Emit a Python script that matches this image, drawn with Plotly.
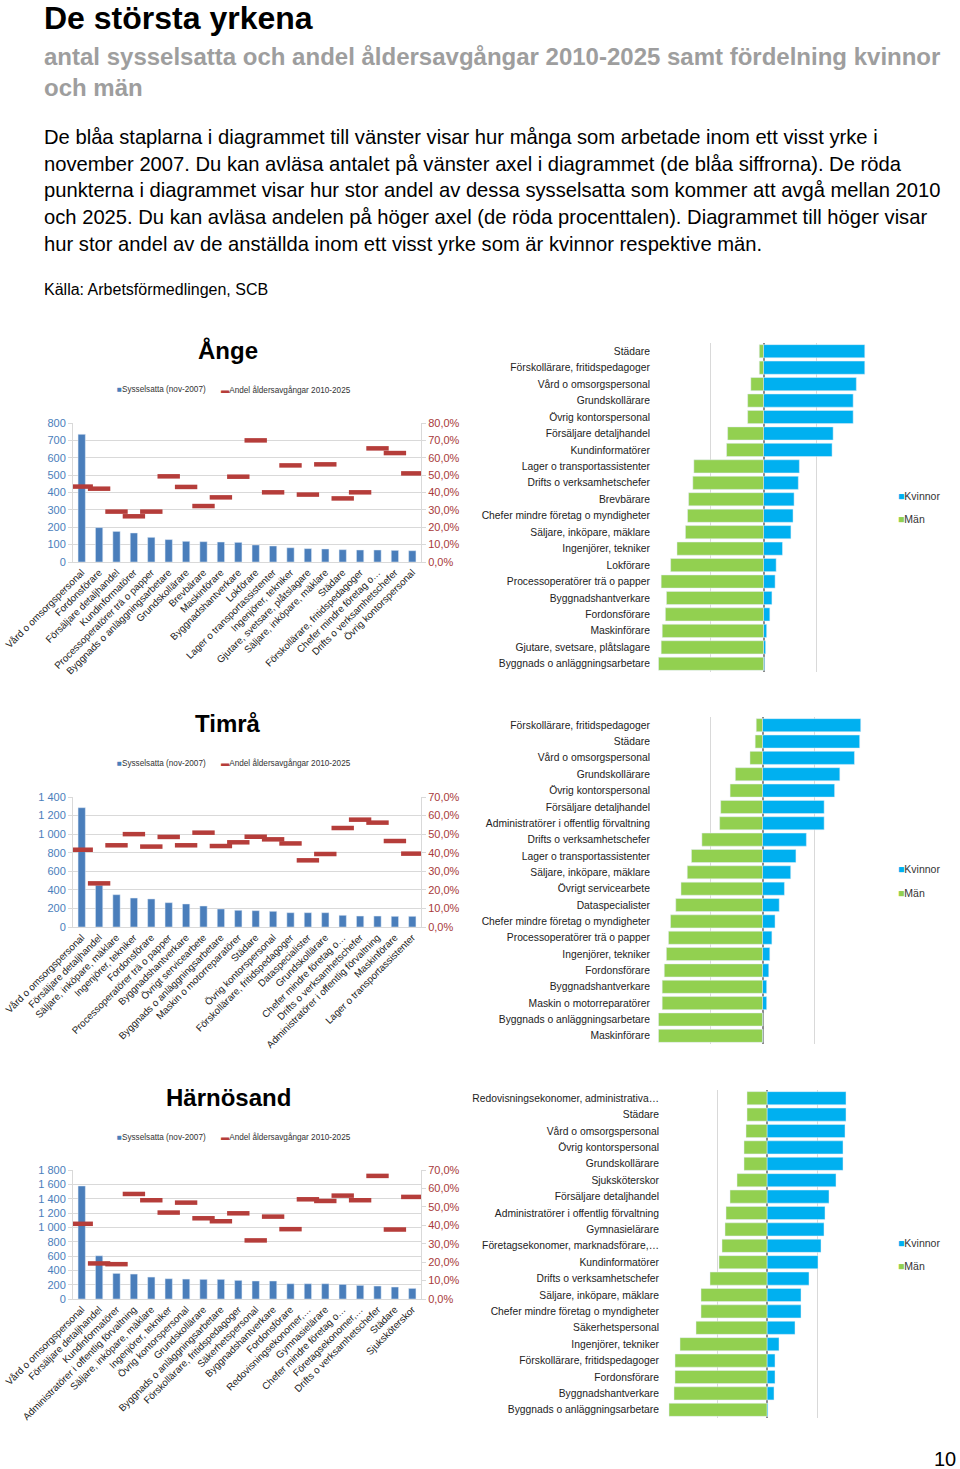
import plotly.graph_objects as go

W, H = 960, 1469
FONT = "Liberation Sans, Arial, sans-serif"

# ---------------- DATA ----------------
ange_yrken = ["Vård o omsorgspersonal", "Fordonsförare", "Försäljare detaljhandel", "Kundinformatörer",
              "Processoperatörer trä o papper", "Byggnads o anläggningsarbetare", "Grundskollärare",
              "Brevbärare", "Maskinförare", "Byggnadshantverkare", "Lokförare",
              "Lager o transportassistenter", "Ingenjörer, tekniker", "Gjutare, svetsare, plåtslagare",
              "Säljare, inköpare, mäklare", "Städare", "Förskollärare, fritidspedagoger",
              "Chefer mindre företag o…", "Drifts o verksamhetschefer", "Övrig kontorspersonal"]
ange_syss = [735, 198, 176, 167, 142, 129, 119, 117, 115, 113, 98, 92, 82, 77, 75, 71, 69, 69, 67, 65]
ange_andel = [43.4, 42.2, 29.0, 26.3, 29.0, 49.3, 43.2, 32.2, 37.2, 49.1, 70.0, 40.1, 55.6, 38.8,
              56.2, 36.6, 40.1, 65.4, 62.7, 51.0]

ange_kon_yrken = ["Städare", "Förskollärare, fritidspedagoger", "Vård o omsorgspersonal", "Grundskollärare",
                  "Övrig kontorspersonal", "Försäljare detaljhandel", "Kundinformatörer",
                  "Lager o transportassistenter", "Drifts o verksamhetschefer", "Brevbärare",
                  "Chefer mindre företag o myndigheter", "Säljare, inköpare, mäklare", "Ingenjörer, tekniker",
                  "Lokförare", "Processoperatörer trä o papper", "Byggnadshantverkare", "Fordonsförare",
                  "Maskinförare", "Gjutare, svetsare, plåtslagare", "Byggnads o anläggningsarbetare"]
ange_kvinnor = [96, 96, 88, 85, 85, 66, 65, 34, 33, 29, 28, 26, 18, 12, 11, 8, 6, 3, 2, 1]
ange_man = [4, 4, 12, 15, 15, 34, 35, 66, 67, 71, 72, 74, 82, 88, 97, 92, 93, 96, 97, 99.5]

timra_yrken = ["Vård o omsorgspersonal", "Försäljare detaljhandel", "Säljare, inköpare, mäklare",
               "Ingenjörer, tekniker", "Fordonsförare", "Processoperatörer trä o papper",
               "Byggnadshantverkare", "Övrigt servicearbete", "Byggnads o anläggningsarbetare",
               "Maskin o motorreparatörer", "Städare", "Övrig kontorspersonal",
               "Förskollärare, fritidspedagoger", "Dataspecialister", "Grundskollärare",
               "Chefer mindre företag o…", "Drifts o verksamhetschefer",
               "Administratörer i offentlig förvaltning", "Maskinförare", "Lager o transportassistenter"]
timra_syss = [1285, 450, 348, 312, 302, 262, 248, 226, 194, 180, 176, 169, 154, 154, 154, 126, 118, 118, 115, 115]
timra_andel = [41.6, 23.5, 44.0, 50.0, 43.3, 48.5, 44.0, 50.8, 43.6, 45.6, 48.6, 47.2, 45.0, 35.9,
               39.3, 53.3, 57.8, 56.2, 46.3, 39.5]

timra_kon_yrken = ["Förskollärare, fritidspedagoger", "Städare", "Vård o omsorgspersonal", "Grundskollärare",
                   "Övrig kontorspersonal", "Försäljare detaljhandel", "Administratörer i offentlig förvaltning",
                   "Drifts o verksamhetschefer", "Lager o transportassistenter", "Säljare, inköpare, mäklare",
                   "Övrigt servicearbete", "Dataspecialister", "Chefer mindre företag o myndigheter",
                   "Processoperatörer trä o papper", "Ingenjörer, tekniker", "Fordonsförare",
                   "Byggnadshantverkare", "Maskin o motorreparatörer", "Byggnads o anläggningsarbetare",
                   "Maskinförare"]
timra_kvinnor = [94, 93, 88, 74, 69, 59, 59, 42, 32, 27, 21, 16, 12, 9, 7, 6, 4, 4, 0.5, 0.5]
timra_man = [6, 7, 12, 26, 31, 40, 41, 58, 68, 72, 78, 83, 88, 90, 92, 94, 96, 96, 99.5, 99.5]

harn_yrken = ["Vård o omsorgspersonal", "Försäljare detaljhandel", "Kundinformatörer",
              "Administratörer i offentlig förvaltning", "Säljare, inköpare, mäklare", "Ingenjörer, tekniker",
              "Övrig kontorspersonal", "Grundskollärare", "Byggnads o anläggningsarbetare",
              "Förskollärare, fritidspedagoger", "Säkerhetspersonal", "Byggnadshantverkare", "Fordonsförare",
              "Redovisningsekonomer,…", "Gymnasielärare", "Chefer mindre företag o…", "Företagsekonomer,…",
              "Drifts o verksamhetschefer", "Städare", "Sjuksköterskor"]
harn_syss = [1577, 603, 357, 348, 306, 283, 278, 274, 274, 260, 251, 251, 213, 213, 213, 204, 190, 181, 167, 148]
harn_andel = [40.8, 19.3, 18.9, 57.0, 53.6, 46.9, 52.3, 43.8, 42.2, 46.5, 31.8, 44.7, 37.9, 54.1,
              53.2, 56.1, 53.6, 66.8, 37.7, 55.4]

harn_kon_yrken = ["Redovisningsekonomer, administrativa…", "Städare", "Vård o omsorgspersonal",
                  "Övrig kontorspersonal", "Grundskollärare", "Sjuksköterskor", "Försäljare detaljhandel",
                  "Administratörer i offentlig förvaltning", "Gymnasielärare",
                  "Företagsekonomer, marknadsförare,…", "Kundinformatörer", "Drifts o verksamhetschefer",
                  "Säljare, inköpare, mäklare", "Chefer mindre företag o myndigheter", "Säkerhetspersonal",
                  "Ingenjörer, tekniker", "Förskollärare, fritidspedagoger", "Fordonsförare",
                  "Byggnadshantverkare", "Byggnads o anläggningsarbetare"]
harn_kvinnor = [79, 79, 78, 76, 76, 69, 62, 58, 57, 54, 51, 42, 34, 34, 28, 12, 8, 8, 7, 1]
harn_man = [20, 20, 21, 23, 23, 30, 37, 41, 42, 45, 48, 57, 66, 66, 71, 87, 92, 92, 93, 98]

kommuner = ["Ånge", "Timrå", "Härnösand"]
legend_syss = "Sysselsatta (nov-2007)"
legend_andel = "Andel åldersavgångar 2010-2025"

# ---------------- LAYOUT HELPERS ----------------
def xd(a, b):
    return [a / W, b / W]

def yd(top, bottom):
    return [1 - bottom / H, 1 - top / H]

def py(y):
    return 1 - y / H

def sfx(n):
    return "" if n == 1 else str(n)

BLUE_BAR = "#4A7EBB"
RED = "#B53D3A"
KV = "#00B0F0"
MAN = "#92D050"
GRID = "#D9D9D9"

charts = [
    dict(name=kommuner[0], cat=ange_yrken, syss=ange_syss, andel=ange_andel, ymax=800, dtick=100, y2max=0.8,
         gcat=ange_kon_yrken, kv=ange_kvinnor, man=ange_man,
         left=(73, 421, 423, 562), right=(658, 869, 343, 672), title_y=350, leg_y=390, kleg=(496, 519)),
    dict(name=kommuner[1], cat=timra_yrken, syss=timra_syss, andel=timra_andel, ymax=1400, dtick=200, y2max=0.7,
         gcat=timra_kon_yrken, kv=timra_kvinnor, man=timra_man,
         left=(73, 421, 797, 927), right=(658, 867, 717, 1044), title_y=724, leg_y=763, kleg=(869, 893)),
    dict(name=kommuner[2], cat=harn_yrken, syss=harn_syss, andel=harn_andel, ymax=1800, dtick=200, y2max=0.7,
         gcat=harn_kon_yrken, kv=harn_kvinnor, man=harn_man,
         left=(73, 421, 1170, 1299), right=(667, 867, 1090, 1418), title_y=1097, leg_y=1137, kleg=(1243, 1266)),
]

fig = go.Figure()
layout = {}
annotations = []

for k, c in enumerate(charts):
    xl, yl, y2, xr, yr = 2 * k + 1, 3 * k + 1, 3 * k + 2, 2 * k + 2, 3 * k + 3
    # left combo chart
    fig.add_trace(go.Bar(x=c["cat"], y=c["syss"], width=0.42, marker_color=BLUE_BAR,
                         xaxis="x" + sfx(xl), yaxis="y" + sfx(yl), showlegend=False))
    fig.add_trace(go.Scatter(x=c["cat"], y=[v / 100 for v in c["andel"]], mode="markers",
                             marker=dict(symbol="line-ew", size=16, line=dict(width=4.5, color=RED)),
                             xaxis="x" + sfx(xl), yaxis="y" + sfx(y2), showlegend=False))
    L = c["left"]
    layout["xaxis" + sfx(xl)] = dict(domain=xd(L[0], L[1]), anchor="y" + sfx(yl), type="category",
                                     tickangle=-45, tickfont=dict(size=9.8, color="#222"),
                                     showline=True, linecolor=GRID, showgrid=False, automargin=False,
                                     range=[-0.5, len(c["cat"]) - 0.5])
    layout["yaxis" + sfx(yl)] = dict(domain=yd(L[2], L[3]), anchor="x" + sfx(xl), range=[0, c["ymax"]],
                                     dtick=c["dtick"], tickformat=",d", tickfont=dict(size=11, color=BLUE_BAR),
                                     showgrid=True, gridcolor=GRID, showline=True, linecolor=GRID,
                                     ticks="outside", ticklen=4, tickcolor=GRID, zeroline=False,
                                     automargin=False)
    layout["yaxis" + sfx(y2)] = dict(overlaying="y" + sfx(yl), anchor="x" + sfx(xl), side="right",
                                     range=[0, c["y2max"]], dtick=0.1, tickformat=".1%",
                                     tickfont=dict(size=11, color="#A83A3A"), showgrid=False,
                                     showline=True, linecolor=GRID, ticks="outside", ticklen=4,
                                     tickcolor=GRID, zeroline=False, automargin=False)
    # right gender chart
    fig.add_trace(go.Bar(y=c["gcat"], x=c["kv"], orientation="h", marker_color=KV, width=0.8,
                         xaxis="x" + sfx(xr), yaxis="y" + sfx(yr), showlegend=False))
    fig.add_trace(go.Bar(y=c["gcat"], x=[-m for m in c["man"]], orientation="h", marker_color=MAN, width=0.8,
                         xaxis="x" + sfx(xr), yaxis="y" + sfx(yr), showlegend=False))
    R = c["right"]
    layout["xaxis" + sfx(xr)] = dict(domain=xd(R[0], R[1]), anchor="y" + sfx(yr), range=[-100, 100], dtick=50,
                                     showticklabels=False, showgrid=True, gridcolor=GRID, gridwidth=1,
                                     zeroline=True, zerolinecolor="#8C8C8C", zerolinewidth=1.5,
                                     showline=False, automargin=False)
    layout["yaxis" + sfx(yr)] = dict(domain=yd(R[2], R[3]), anchor="x" + sfx(xr), type="category",
                                     range=[len(c["gcat"]) - 0.5, -0.5], tickfont=dict(size=10.3, color="#222"),
                                     ticks="outside", ticklen=5, tickcolor="rgba(0,0,0,0)", showgrid=False,
                                     showline=False, automargin=False)
    # titles & legends
    annotations.append(dict(text="<b>" + c["name"] + "</b>", x=228 / W, y=py(c["title_y"]), xanchor="center",
                            yanchor="middle", font=dict(size=24, color="#000")))
    annotations.append(dict(text='<span style="color:%s">■</span>%s' % (BLUE_BAR, legend_syss),
                            x=115 / W, y=py(c["leg_y"]), xanchor="left", yanchor="middle",
                            font=dict(size=8.2, color="#333")))
    annotations.append(dict(text='<span style="color:%s">▬</span>%s' % (RED, legend_andel),
                            x=219 / W, y=py(c["leg_y"]), xanchor="left", yanchor="middle",
                            font=dict(size=8.2, color="#333")))
    annotations.append(dict(text='<span style="color:%s">■</span>Kvinnor' % KV, x=896 / W, y=py(c["kleg"][0]),
                            xanchor="left", yanchor="middle", font=dict(size=10.5, color="#333")))
    annotations.append(dict(text='<span style="color:%s">■</span>Män' % MAN, x=896 / W, y=py(c["kleg"][1]),
                            xanchor="left", yanchor="middle", font=dict(size=10.5, color="#333")))

# header texts
title = "De största yrkena"
subtitle = ["antal sysselsatta och andel åldersavgångar 2010-2025 samt fördelning kvinnor", "och män"]
body = ["De blåa staplarna i diagrammet till vänster visar hur många som arbetade inom ett visst yrke i",
        "november 2007. Du kan avläsa antalet på vänster axel i diagrammet (de blåa siffrorna). De röda",
        "punkterna i diagrammet visar hur stor andel av dessa sysselsatta som kommer att avgå mellan 2010",
        "och 2025. Du kan avläsa andelen på höger axel (de röda procenttalen). Diagrammet till höger visar",
        "hur stor andel av de anställda inom ett visst yrke som är kvinnor respektive män."]
kalla = "Källa: Arbetsförmedlingen, SCB"

annotations.append(dict(text="<b>" + title + "</b>", x=42 / W, y=py(18), xanchor="left", yanchor="middle",
                        font=dict(size=32, color="#000")))
for i, line in enumerate(subtitle):
    annotations.append(dict(text="<b>" + line + "</b>", x=42 / W, y=py(56 + 32 * i), xanchor="left",
                            yanchor="middle", font=dict(size=24, color="#9E9E9E")))
for i, line in enumerate(body):
    annotations.append(dict(text=line, x=42 / W, y=py(137 + 26.7 * i), xanchor="left", yanchor="middle",
                            font=dict(size=20.2, color="#000")))
annotations.append(dict(text=kalla, x=42 / W, y=py(289), xanchor="left", yanchor="middle",
                        font=dict(size=16, color="#000")))
annotations.append(dict(text="10", x=958 / W, y=py(1459), xanchor="right", yanchor="middle",
                        font=dict(size=20, color="#000")))

for a in annotations:
    a.update(xref="paper", yref="paper", showarrow=False)

fig.update_layout(width=W, height=H, margin=dict(l=0, r=0, t=0, b=0), paper_bgcolor="white",
                  plot_bgcolor="white", barmode="relative", separators=", ",
                  font=dict(family=FONT, color="#000"), annotations=annotations, **layout)

fig.write_html("out.html")
